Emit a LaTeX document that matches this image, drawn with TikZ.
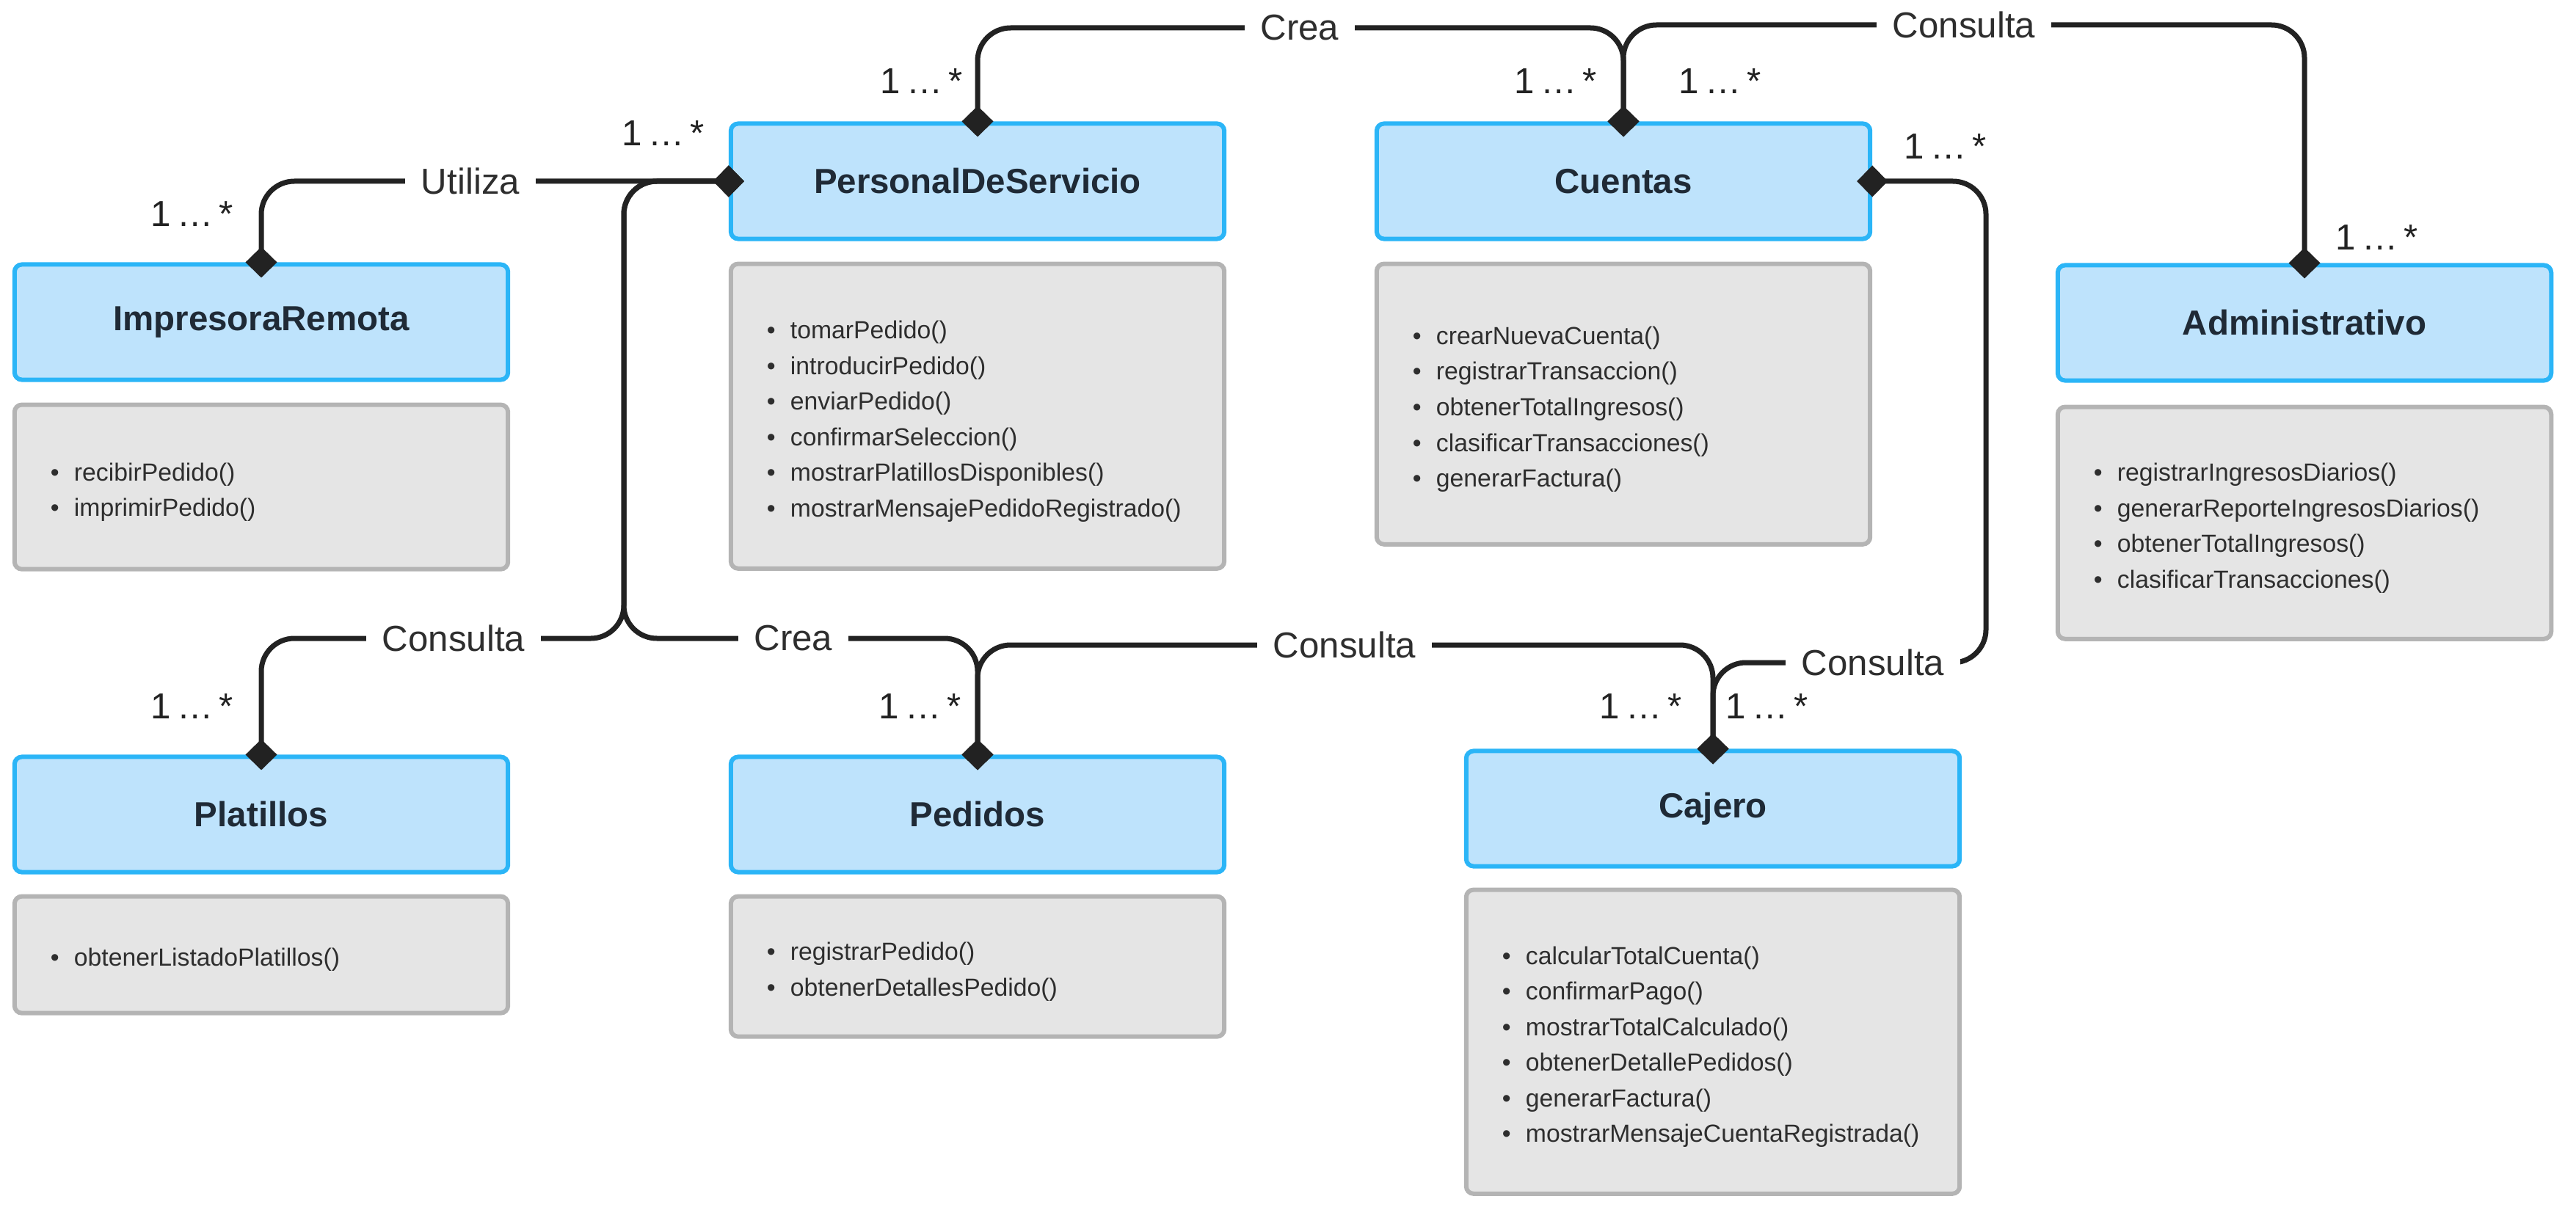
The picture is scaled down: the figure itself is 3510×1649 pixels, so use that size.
\documentclass[tikz,border=0pt]{standalone}
\usepackage{fontspec}
\setmainfont{Liberation Sans}
\usepackage{xcolor}
\usepackage{tikz}
\usetikzlibrary{arrows.meta,positioning}

\definecolor{hdrfill}{HTML}{BEE3FC}
\definecolor{hdrline}{HTML}{2BB5F7}
\definecolor{mthfill}{HTML}{E5E5E5}
\definecolor{mthline}{HTML}{B4B4B4}
\definecolor{ink}{HTML}{222222}
\definecolor{titletext}{HTML}{1F2A36}
\definecolor{methtext}{HTML}{2E2E2E}

\newcommand{\meth}[1]{\textbullet\hspace{0.6em}#1}

\begin{document}
\begin{tikzpicture}[
  x=0.01cm, y=-0.01cm,
  font=\fontsize{9.6pt}{13.8pt}\selectfont,
  dia/.tip={Diamond[length=4.2mm,width=4.3mm]},
  classbox/.style={rectangle, rounded corners=1mm, draw=hdrline, fill=hdrfill, line width=0.6mm, inner sep=0pt, minimum width=6.72cm, minimum height=1.57cm, text=titletext, font=\fontsize{13.5pt}{16pt}\selectfont\bfseries},
  methbox/.style={rectangle, rounded corners=1mm, draw=mthline, fill=mthfill, line width=0.6mm, inner xsep=4.9mm, inner ysep=0pt, text width=5.74cm, align=left, minimum height=#1, text=methtext, execute at begin node={\rule{0pt}{11pt}}},
  assoc/.style={draw=ink, line width=0.7mm, line cap=round, rounded corners=4.5mm, dia-dia, shorten <=-2.1mm, shorten >=-2.1mm},
  lbl/.style={fill=white, rounded corners=0pt, inner xsep=2.2mm, inner ysep=0.5mm, text=methtext, font=\fontsize{14pt}{16pt}\selectfont},
  mult/.style={text=ink, font=\fontsize{14pt}{16pt}\selectfont}
]
  \useasboundingbox (0,0) rectangle (3510,1649);

  % Class headers
  \node[classbox] (imp) at (356,439) {ImpresoraRemota};
  \node[classbox] (per) at (1332,247) {PersonalDeServicio};
  \node[classbox] (cue) at (2212,247) {Cuentas};
  \node[classbox] (adm) at (3140,440) {Administrativo};
  \node[classbox] (pla) at (356,1110) {Platillos};
  \node[classbox] (ped) at (1332,1110) {Pedidos};
  \node[classbox] (caj) at (2334,1102) {Cajero};

  % Method lists
  \node[methbox=2.24cm, below=2.8mm of imp] (impM) {
    \meth{recibirPedido()} \\ \meth{imprimirPedido()}
  };
  \node[methbox=4.15cm, below=2.8mm of per] (perM) {
    \meth{tomarPedido()} \\ \meth{introducirPedido()} \\ \meth{enviarPedido()} \\
    \meth{confirmarSeleccion()} \\ \meth{mostrarPlatillosDisponibles()} \\
    \meth{mostrarMensajePedidoRegistrado()}
  };
  \node[methbox=3.82cm, below=2.8mm of cue] (cueM) {
    \meth{crearNuevaCuenta()} \\ \meth{registrarTransaccion()} \\ \meth{obtenerTotalIngresos()} \\
    \meth{clasificarTransacciones()} \\ \meth{generarFactura()}
  };
  \node[methbox=3.16cm, below=3.0mm of adm] (admM) {
    \meth{registrarIngresosDiarios()} \\ \meth{generarReporteIngresosDiarios()} \\
    \meth{obtenerTotalIngresos()} \\ \meth{clasificarTransacciones()}
  };
  \node[methbox=1.59cm, below=2.7mm of pla] (plaM) {
    \meth{obtenerListadoPlatillos()}
  };
  \node[methbox=1.91cm, below=2.7mm of ped] (pedM) {
    \meth{registrarPedido()} \\ \meth{obtenerDetallesPedido()}
  };
  \node[methbox=4.14cm, below=2.6mm of caj] (cajM) {
    \meth{calcularTotalCuenta()} \\ \meth{confirmarPago()} \\ \meth{mostrarTotalCalculado()} \\
    \meth{obtenerDetallePedidos()} \\ \meth{generarFactura()} \\
    \meth{mostrarMensajeCuentaRegistrada()}
  };

  % Waypoints of the associations
  \coordinate (wUti) at (641,247);
  \coordinate (wCrea) at (1771,38);
  \coordinate (wCons) at (2676,34);
  \coordinate (trunk) at (850,870);
  \coordinate (wPla) at (618,870);
  \coordinate (wPed) at (1081,870);
  \coordinate (wPC) at (1832,879);
  \coordinate (cueDown) at (2706,903);
  \coordinate (wCC) at (2552,903);

  % Associations
  \draw[assoc] (imp.north) |- (wUti) node[lbl] (tUti) {Utiliza} -- (per.west);
  \draw[assoc] (per.north) |- (wCrea) node[lbl] (tCrea) {Crea} -| (cue.north);
  \draw[assoc] (cue.north) |- (wCons) node[lbl] (tCons) {Consulta} -| (adm.north);
  \draw[assoc] (per.west) -| (trunk) -- (wPla) node[lbl] (tPla) {Consulta} -| (pla.north);
  \draw[assoc] (per.west) -| (trunk) -- (wPed) node[lbl] (tPed) {Crea} -| (ped.north);
  \draw[assoc] (ped.north) |- (wPC) node[lbl] (tPC) {Consulta} -| (caj.north);
  \draw[assoc] (cue.east) -| (cueDown) -- (wCC) node[lbl] (tCC) {Consulta} -| (caj.north);

  % Multiplicities
  \node[mult] (mImp) at (262,292) {1\,…\,*};
  \node[mult] (mPerW) at (904,182) {1\,…\,*};
  \node[mult] (mPerN) at (1256,111) {1\,…\,*};
  \node[mult] (mCueL) at (2120,111) {1\,…\,*};
  \node[mult] (mCueR) at (2344,111) {1\,…\,*};
  \node[mult] (mCueE) at (2651,200) {1\,…\,*};
  \node[mult] (mAdm) at (3239,324) {1\,…\,*};
  \node[mult] (mPla) at (262,963) {1\,…\,*};
  \node[mult] (mPed) at (1254,963) {1\,…\,*};
  \node[mult] (mCajL) at (2236,963) {1\,…\,*};
  \node[mult] (mCajR) at (2408,963) {1\,…\,*};

\end{tikzpicture}
\end{document}
